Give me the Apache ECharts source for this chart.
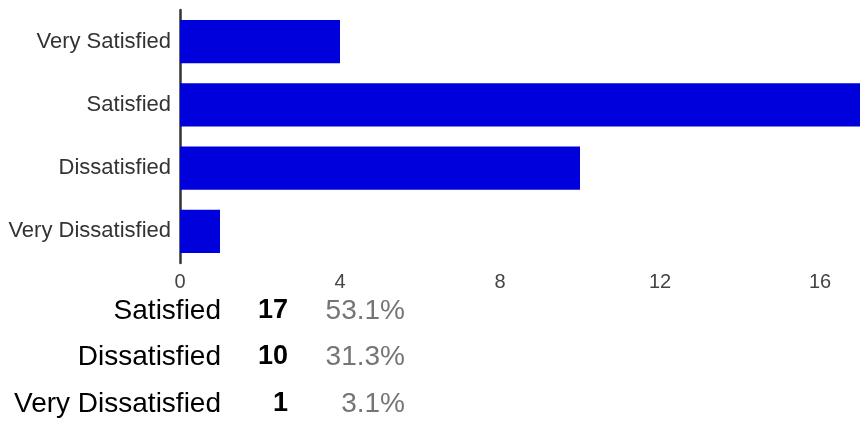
<!DOCTYPE html>
<html>
<head>
<meta charset="utf-8">
<script src="https://cdn.jsdelivr.net/npm/echarts@6/dist/echarts.min.js"></script>
<style>
html,body{margin:0;padding:0;background:#fff;}
#chart{width:860px;height:421px;}
</style>
</head>
<body>
<div id="chart"></div>
<script>
var categories = ['Very Satisfied', 'Satisfied', 'Dissatisfied', 'Very Dissatisfied'];
var counts = [4, 17, 10, 1];
var xTicks = [0, 4, 8, 12, 16];
var tableLabels = ['Satisfied', 'Dissatisfied', 'Very Dissatisfied'];
var tableCounts = [17, 10, 1];
var tablePercents = ['53.1%', '31.3%', '3.1%'];

var FONT = '"Liberation Sans", Arial, sans-serif';
var chart = echarts.init(document.getElementById('chart'));

var graphics = [];
var rowY = [311, 357, 404];
for (var i = 0; i < tableLabels.length; i++) {
  graphics.push({type:'text', x:221, y:rowY[i],
    style:{text: tableLabels[i], x:0, y:0, textAlign:'right', textVerticalAlign:'middle', fontFamily: FONT, fontSize:28, fill:'#000'}});
  graphics.push({type:'text', x:288, y:rowY[i],
    style:{text: String(tableCounts[i]), x:0, y:0, textAlign:'right', textVerticalAlign:'middle', fontFamily: FONT, fontSize:27, fontWeight:'bold', fill:'#000'}});
  graphics.push({type:'text', x:405, y:rowY[i],
    style:{text: tablePercents[i], x:0, y:0, textAlign:'right', textVerticalAlign:'middle', fontFamily: FONT, fontSize:28, fill:'#757575'}});
}

chart.setOption({
  animation: false,
  grid: {left: 180, right: 0, top: 10, height: 253, containLabel: false},
  xAxis: {
    type: 'value', min: 0, max: 17, interval: 4,
    axisLine: {show: false}, axisTick: {show: false}, splitLine: {show: false},
    axisLabel: {
      showMaxLabel: false, fontSize: 20, color: '#444', fontFamily: FONT, margin: 9,
      formatter: function (v) { return xTicks.indexOf(v) >= 0 ? String(v) : ''; }
    }
  },
  yAxis: {
    type: 'category', inverse: true, data: categories,
    axisLine: {show: true, lineStyle: {color: '#333', width: 2.5}},
    axisTick: {show: false},
    axisLabel: {fontSize: 22, color: '#333', fontFamily: FONT, margin: 9}
  },
  series: [{
    type: 'bar', data: counts, barCategoryGap: '32%',
    itemStyle: {color: '#0000dc'}
  }],
  graphic: graphics
});
</script>
</body>
</html>
